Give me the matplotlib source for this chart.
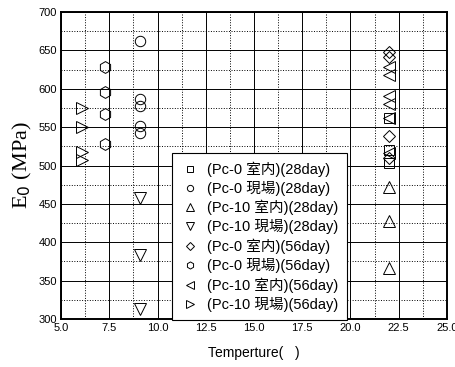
"""E0 vs temperature scatter"""

import matplotlib
matplotlib.use('Agg')
import matplotlib.pyplot as plt
from matplotlib.ticker import MultipleLocator

plt.rcParams['font.family'] = ['Liberation Sans', 'Noto Sans CJK TC']

# series: (label, marker, temperature, E0 values)
labels = ['(Pc-0 室内)(28day)', '(Pc-0 現場)(28day)',
          '(Pc-10 室内)(28day)', '(Pc-10 現場)(28day)',
          '(Pc-0 室内)(56day)', '(Pc-0 現場)(56day)',
          '(Pc-10 室内)(56day)', '(Pc-10 現場)(56day)']
markers = ['s', 'o', '^', 'v', 'D', 'h', '<', '>']
temps = [22.0, 9.1, 22.0, 9.1, 22.0, 7.3, 22.0, 6.1]
pc0_in_28 = [562, 520, 503]
pc0_site_28 = [662, 587, 577, 552, 542]
pc10_in_28 = [472, 428, 367]
pc10_site_28 = [457, 383, 313]
pc0_in_56 = [648, 642, 538, 510]
pc0_site_56 = [628, 596, 567, 528]
pc10_in_56 = [628, 618, 590, 580, 562, 516]
pc10_site_56 = [575, 550, 518, 507]
values = [pc0_in_28, pc0_site_28, pc10_in_28, pc10_site_28,
          pc0_in_56, pc0_site_56, pc10_in_56, pc10_site_56]

sizes = {'s': 6.5, 'o': 7.5, '^': 8.5, 'v': 8.5, 'D': 6.5, 'h': 8.5,
         '<': 8.5, '>': 8.5}


def main():
    """Main function"""
    fig = plt.figure(figsize=(4.56, 3.67), dpi=100)
    ax = fig.add_axes([0.134, 0.131, 0.846, 0.836])

    for lab, m, t, v in zip(labels, markers, temps, values):
        ax.plot([t] * len(v), v, linestyle='none', marker=m, ms=sizes[m],
                mfc='none', mec='black', mew=0.7, label=lab)

    ax.set_xlim(5, 25)
    ax.set_ylim(300, 700)
    ax.xaxis.set_major_locator(MultipleLocator(2.5))
    ax.xaxis.set_minor_locator(MultipleLocator(1.25))
    ax.yaxis.set_major_locator(MultipleLocator(50))
    ax.yaxis.set_minor_locator(MultipleLocator(25))
    ax.grid(which='major', color='black', linestyle='-', linewidth=0.7)
    ax.grid(which='minor', color='black', linestyle=':', linewidth=0.7)
    ax.set_axisbelow(True)
    ax.tick_params(which='both', direction='in', length=0, labelsize=8,
                   pad=3)
    ax.xaxis.set_major_formatter(plt.FuncFormatter(lambda x, p: f'{x:.1f}'))
    for s in ax.spines.values():
        s.set_linewidth(1.4)

    ax.set_xlabel('Temperture(   )', fontsize=10, labelpad=9)
    ax.set_ylabel(r'E$_0$ (MPa)', fontsize=16, family='Liberation Serif',
                  labelpad=3)

    leg = ax.legend(loc='lower left', bbox_to_anchor=(0.288, -0.005),
                    borderaxespad=0, fancybox=False, framealpha=1,
                    edgecolor='black', fontsize=10.5, markerscale=0.6,
                    handlelength=1.2, handletextpad=0.6,
                    labelspacing=0.28, borderpad=0.6)
    leg.get_frame().set_linewidth(0.8)

    fig.savefig('out.png', dpi=100)


if __name__ == "__main__":
    main()
